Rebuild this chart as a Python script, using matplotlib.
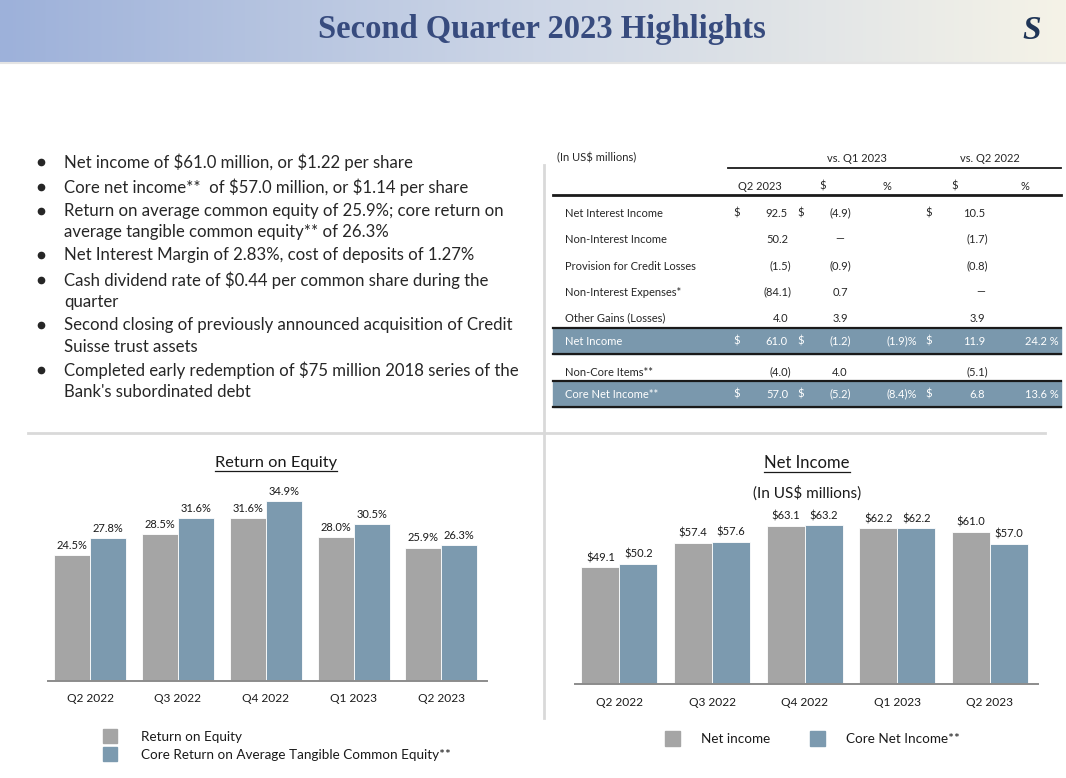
"""Second Quarter 2023 Highlights slide: bullets, summary table and two bar charts."""
import matplotlib
matplotlib.use("Agg")
import matplotlib.pyplot as plt
import numpy as np
from matplotlib.patches import Rectangle
from matplotlib.lines import Line2D

plt.rcParams["text.parse_math"] = False
plt.rcParams["font.family"] = ["Lato", "DejaVu Sans"]

W, H = 1066, 778

# ---- data ----
title = "Second Quarter 2023 Highlights"

bullets = [
    ["Net income of $61.0 million, or $1.22 per share"],
    ["Core net income**  of $57.0 million, or $1.14 per share"],
    ["Return on average common equity of 25.9%; core return on",
     "average tangible common equity** of 26.3%"],
    ["Net Interest Margin of 2.83%, cost of deposits of 1.27%"],
    ["Cash dividend rate of $0.44 per common share during the", "quarter"],
    ["Second closing of previously announced acquisition of Credit",
     "Suisse trust assets"],
    ["Completed early redemption of $75 million 2018 series of the",
     "Bank's subordinated debt"],
]

row_labels = ["Net Interest Income", "Non-Interest Income", "Provision for Credit Losses",
              "Non-Interest Expenses*", "Other Gains (Losses)", "Net Income",
              "Non-Core Items**", "Core Net Income**"]
q2_2023 = ["92.5", "50.2", "(1.5)", "(84.1)", "4.0", "61.0", "(4.0)", "57.0"]
vs_q1_usd = ["(4.9)", "—", "(0.9)", "0.7", "3.9", "(1.2)", "4.0", "(5.2)"]
vs_q1_pct = ["", "", "", "", "", "(1.9)%", "", "(8.4)%"]
vs_q2_usd = ["10.5", "(1.7)", "(0.8)", "—", "3.9", "11.9", "(5.1)", "6.8"]
vs_q2_pct = ["", "", "", "", "", "24.2 %", "", "13.6 %"]
dollar_rows = [0, 5, 7]
shaded_rows = [5, 7]

quarters = ["Q2 2022", "Q3 2022", "Q4 2022", "Q1 2023", "Q2 2023"]
roe = [24.5, 28.5, 31.6, 28.0, 25.9]
core_rotce = [27.8, 31.6, 34.9, 30.5, 26.3]
net_income = [49.1, 57.4, 63.1, 62.2, 61.0]
core_net_income = [50.2, 57.6, 63.2, 62.2, 57.0]

GRAY = "#a5a5a5"
BLUE = "#7c9aaf"
TXT = "#262626"

fig = plt.figure(figsize=(W / 100, H / 100), dpi=100)
fig.patch.set_facecolor("white")

# background axes in pixel coordinates
bg = fig.add_axes([0, 0, 1, 1])
bg.set_xlim(0, W)
bg.set_ylim(H, 0)
bg.axis("off")

# header gradient
stops = np.array([[157, 177, 218], [205, 214, 230], [245, 243, 232]]) / 255
t = np.linspace(0, 1, 400)
grad = np.empty((1, 400, 3))
for c in range(3):
    grad[0, :, c] = np.interp(t, [0, 0.5, 1], stops[:, c])
bg.imshow(grad, extent=[0, W, 62, 0], aspect="auto", zorder=0)
bg.add_line(Line2D([0, W], [63, 63], color="#e4e4e4", lw=1.5))
bg.text(542, 29, title, ha="center", va="center", fontsize=23.5, fontweight="bold",
        family="Liberation Serif", color="#374b7e")
bg.text(1032, 30, "S", ha="center", va="center", fontsize=24, fontweight="bold",
        family="Liberation Serif", color="#1f3557", fontstyle="italic")

# bullets (line positions in pixels)
line_y = [[162], [187], [211, 232], [255], [280, 302], [325, 347], [370, 392]]
for item, ys in zip(bullets, line_y):
    bg.plot(40.5, ys[0], "o", color=TXT, ms=4.5)
    for line, yy in zip(item, ys):
        bg.text(64, yy, line, ha="left", va="center", fontsize=12.1, color=TXT)

# dividers
bg.add_line(Line2D([28, 1045], [433, 433], color="#d9d9d9", lw=2))
bg.add_line(Line2D([544, 544], [165, 718], color="#d9d9d9", lw=2))

# table
fs_t = 8
bg.text(557, 158, "(In US$ millions)", ha="left", va="center", fontsize=fs_t, color=TXT)
bg.text(857, 158, "vs. Q1 2023", ha="center", va="center", fontsize=fs_t, color=TXT)
bg.text(990, 158, "vs. Q2 2022", ha="center", va="center", fontsize=fs_t, color=TXT)
bg.add_line(Line2D([728, 1061], [168, 168], color="#1a1a1a", lw=1.3))
for x, s in [(760, "Q2 2023"), (823, "$"), (887, "%"), (955, "$"), (1025, "%")]:
    bg.text(x, 186, s, ha="center", va="center", fontsize=fs_t, color=TXT)
bg.add_line(Line2D([553, 1061], [195, 195], color="#1a1a1a", lw=2))

row_y = [213, 239, 266, 292, 318, 341, 372, 394]
for r in shaded_rows:
    bg.add_patch(Rectangle((553, row_y[r] - 13), 508, 26, color="#7a98ad", zorder=1))
    for yy in (row_y[r] - 13, row_y[r] + 13):
        bg.add_line(Line2D([553, 1061], [yy, yy], color="#1a1a1a", lw=1.6, zorder=2))


def rx(x, s):
    return x + 3 if s.endswith(")") else x


for i, lab in enumerate(row_labels):
    col = "white" if i in shaded_rows else TXT
    yy = row_y[i]
    kw = dict(va="center", fontsize=fs_t, color=col, zorder=3)
    bg.text(565, yy, lab, ha="left", **kw)
    if i in dollar_rows:
        bg.text(737, yy, "$", ha="center", **kw)
        bg.text(801, yy, "$", ha="center", **kw)
        bg.text(929, yy, "$", ha="center", **kw)
    bg.text(rx(788, q2_2023[i]), yy, q2_2023[i], ha="right", **kw)
    bg.text(840, yy, vs_q1_usd[i], ha="center", **kw)
    if vs_q1_pct[i]:
        bg.text(917, yy, vs_q1_pct[i], ha="right", **kw)
    bg.text(rx(985, vs_q2_usd[i]), yy, vs_q2_usd[i], ha="right", **kw)
    if vs_q2_pct[i]:
        bg.text(1059, yy, vs_q2_pct[i], ha="right", **kw)


def bar_chart(rect_px, series, colors, ylim, fmt, tick_y):
    x0, x1, ytop, ybase = rect_px
    ax = fig.add_axes([x0 / W, (H - ybase) / H, (x1 - x0) / W, (ybase - ytop) / H])
    x = np.arange(len(quarters))
    bw = 0.41
    for k, (vals, c) in enumerate(zip(series, colors)):
        pos = x + (k - 0.5) * bw
        ax.bar(pos, vals, width=bw, color=c, edgecolor="white", linewidth=0.6, zorder=2)
        for p, v in zip(pos, vals):
            ax.annotate(fmt(v), (p, v), xytext=(0, 3), textcoords="offset points",
                        ha="center", va="bottom", fontsize=8, color="#1a1a1a")
    ax.set_ylim(*ylim)
    ax.set_xlim(-0.48, len(quarters) - 1 + 0.52)
    ax.set_yticks([])
    ax.set_xticks([])
    for s in ["top", "right", "left"]:
        ax.spines[s].set_visible(False)
    ax.spines["bottom"].set_color("#8c8c8c")
    ax.spines["bottom"].set_linewidth(1.4)
    ax.patch.set_alpha(0)
    lo, hi = ax.get_xlim()
    for xi, q in zip(x, quarters):
        cx = x0 + (x1 - x0) * (xi - lo) / (hi - lo)
        bg.text(cx, tick_y, q, ha="center", va="center", fontsize=8.6, color="#1a1a1a")
    return ax


bar_chart((48, 487, 480, 681), [roe, core_rotce], [GRAY, BLUE], (0, 39),
          lambda v: f"{v:.1f}%", 699)
bar_chart((575, 1038, 505, 684), [net_income, core_net_income], [GRAY, BLUE], (10, 70),
          lambda v: f"${v:.1f}", 702)

t1 = bg.text(276, 463, "Return on Equity", ha="center", va="center", fontsize=11.8, color="#1a1a1a")
t2 = bg.text(807, 463, "Net Income", ha="center", va="center", fontsize=12, color="#1a1a1a")
bg.text(807, 493, "(In US$ millions)", ha="center", va="center", fontsize=11, color="#1a1a1a")

# legends
bg.add_patch(Rectangle((103, 729), 14, 14, color=GRAY))
bg.add_patch(Rectangle((103, 747), 14, 14, color=BLUE))
bg.text(141, 737, "Return on Equity", ha="left", va="center", fontsize=9.7, color="#1a1a1a")
bg.text(141, 755, "Core Return on Average Tangible Common Equity**", ha="left", va="center",
        fontsize=9.7, color="#1a1a1a")
bg.add_patch(Rectangle((665, 731), 15, 15, color=GRAY))
bg.add_patch(Rectangle((810, 731), 15, 15, color=BLUE))
bg.text(701, 739, "Net income", ha="left", va="center", fontsize=9.7, color="#1a1a1a")
bg.text(846, 739, "Core Net Income**", ha="left", va="center", fontsize=9.7, color="#1a1a1a")

# underline chart titles
fig.canvas.draw()
inv = bg.transData.inverted()
for tt in (t1, t2):
    bb = tt.get_window_extent()
    (xa, yb), (xb, _) = inv.transform([[bb.x0, bb.y0], [bb.x1, bb.y1]])
    bg.add_line(Line2D([xa, xb], [yb + 1, yb + 1], color="#1a1a1a", lw=0.9))

fig.savefig("out.png", dpi=100)
